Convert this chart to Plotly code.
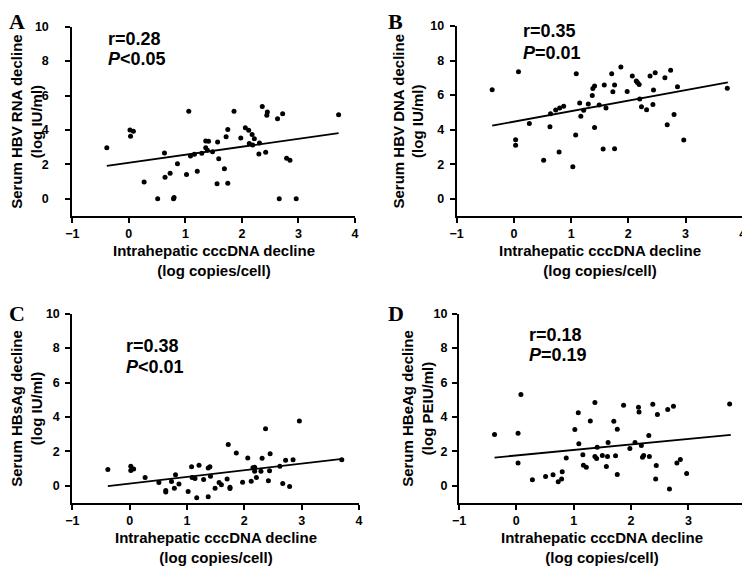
import plotly.graph_objects as go

# Panel A: serum HBV RNA decline vs intrahepatic cccDNA decline
a_x = [-0.39, 0.02, 0.08, 0.03, 0.27, 0.51, 0.63, 0.73, 0.64, 0.79, 0.80, 0.86, 1.02, 1.06,
       1.09, 1.16, 1.21, 1.29, 1.36, 1.41, 1.36, 1.39, 1.48, 1.56, 1.57, 1.59, 1.69, 1.72,
       1.75, 1.75, 1.86, 1.98, 2.06, 2.12, 2.18, 2.22, 2.13, 2.19, 2.31, 2.30, 2.36, 2.44,
       2.45, 2.42, 2.63, 2.72, 2.66, 2.79, 2.85, 2.96, 3.71]
a_y = [2.97, 4.00, 3.92, 3.63, 0.98, 0.00, 2.66, 1.49, 1.25, 0.00, 0.08, 2.03, 1.41, 5.08,
       2.49, 2.59, 1.60, 2.64, 3.36, 3.34, 2.97, 2.82, 2.74, 0.87, 3.30, 2.32, 1.74, 3.61,
       0.91, 4.02, 5.08, 3.53, 4.13, 3.98, 3.73, 3.49, 3.22, 3.13, 3.24, 2.61, 5.37, 4.85,
       5.04, 2.70, 4.65, 4.94, 0.00, 2.36, 2.24, 0.00, 4.88]
a_fit_x = [-0.39, 3.71]
a_fit_y = [1.91, 3.82]

# Panel B: serum HBV DNA decline
b_x = [-0.38, 0.08, 0.03, 0.03, 0.27, 0.52, 0.63, 0.64, 0.73, 0.80, 0.87, 0.79, 1.03, 1.08,
       1.09, 1.15, 1.17, 1.22, 1.30, 1.37, 1.38, 1.41, 1.41, 1.49, 1.56, 1.58, 1.61, 1.71,
       1.73, 1.76, 1.76, 1.87, 1.98, 2.07, 2.14, 2.16, 2.19, 2.20, 2.23, 2.32, 2.38, 2.47,
       2.44, 2.43, 2.64, 2.74, 2.68, 2.80, 2.86, 2.97, 3.73]
b_y = [6.31, 7.35, 3.42, 3.10, 4.35, 2.23, 4.17, 4.92, 5.13, 5.25, 5.35, 2.71, 1.85, 3.69,
       7.23, 5.54, 4.77, 5.12, 5.48, 5.98, 6.38, 6.52, 4.13, 5.42, 2.88, 6.58, 5.25, 7.23,
       6.19, 6.58, 2.90, 7.63, 6.21, 7.10, 6.81, 6.73, 6.62, 5.77, 5.33, 5.15, 7.10, 7.29,
       6.29, 5.46, 7.00, 7.44, 4.29, 4.88, 6.48, 3.40, 6.40]
b_fit_x = [-0.38, 3.74]
b_fit_y = [4.23, 6.73]

# Panel C: serum HBsAg decline
c_x = [-0.38, 0.02, 0.02, 0.07, 0.27, 0.51, 0.63, 0.63, 0.73, 0.80, 0.78, 0.86, 1.02, 1.08,
       1.14, 1.09, 1.21, 1.29, 1.37, 1.40, 1.41, 1.49, 1.56, 1.60, 1.70, 1.75, 1.75, 1.72,
       1.86, 1.97, 2.06, 2.12, 2.15, 2.18, 2.18, 2.21, 2.29, 2.31, 2.37, 2.42, 2.44, 2.45,
       2.62, 2.67, 2.72, 2.79, 2.85, 2.96, 3.70, 1.17, 1.37]
c_y = [0.95, 1.14, 0.89, 0.97, 0.48, 0.19, -0.28, -0.36, 0.25, 0.64, -0.14, 0.10, -0.33, 1.10,
       0.43, 0.48, 1.19, 0.37, 1.03, 1.10, 0.56, -0.14, 0.19, 0.06, 0.39, -0.08, -0.16, 2.40,
       1.91, 0.21, 1.62, 0.27, 1.05, 1.08, 0.85, 0.48, 0.85, 1.60, 3.31, 0.29, 0.87, 1.86,
       1.14, 0.14, 1.48, -0.04, 1.52, 3.77, 1.52, -0.70, -0.64]
c_fit_x = [-0.38, 3.71]
c_fit_y = [-0.02, 1.57]

# Panel D: serum HBeAg decline
d_x = [-0.38, 0.08, 0.03, 0.03, 0.28, 0.51, 0.64, 0.73, 0.79, 0.80, 0.87, 1.02, 1.08, 1.09,
       1.16, 1.17, 1.22, 1.29, 1.37, 1.37, 1.40, 1.41, 1.50, 1.57, 1.59, 1.60, 1.70, 1.73,
       1.76, 1.76, 1.87, 1.98, 2.07, 2.13, 2.14, 2.18, 2.20, 2.22, 2.32, 2.31, 2.38, 2.44,
       2.43, 2.46, 2.64, 2.74, 2.67, 2.80, 2.86, 2.97, 3.72]
d_y = [2.98, 5.30, 3.06, 1.32, 0.35, 0.54, 0.64, 0.23, 0.39, 0.81, 1.61, 3.27, 4.24, 2.44,
       1.80, 1.20, 1.08, 3.77, 4.84, 1.70, 1.59, 2.24, 1.76, 1.12, 1.70, 2.51, 3.75, 1.74,
       3.29, 0.66, 4.68, 2.17, 2.51, 4.56, 4.29, 2.34, 1.66, 1.76, 1.70, 2.92, 4.74, 1.18,
       0.39, 4.14, 4.43, 4.62, -0.19, 1.32, 1.53, 0.72, 4.76]
d_fit_x = [-0.38, 3.74]
d_fit_y = [1.64, 2.96]

panel_letters = ["A", "B", "C", "D"]
y_titles = ["Serum HBV RNA decline<br>(log IU/ml)",
            "Serum HBV DNA decline<br>(log IU/ml)",
            "Serum HBsAg decline<br>(log IU/ml)",
            "Serum HBeAg decline<br>(log PEIU/ml)"]
x_title = "Intrahepatic cccDNA decline<br>(log copies/cell)"
r_labels = ["r=0.28", "r=0.35", "r=0.38", "r=0.18"]
p_labels = ["<i>P</i><0.05", "<i>P</i>=0.01", "<i>P</i><0.01", "<i>P</i>=0.19"]

# the page body adds an 8px margin, so the figure is drawn 8px smaller and
# every screen position below is shifted by that amount
OFF = 8
W, H = 750 - OFF, 567 - OFF
FONT = "Liberation Sans, Arial, sans-serif"


def fx_(px):
    return (px - OFF) / W


def fy_(py):
    return 1 - (py - OFF) / H


# plot areas in screen pixels: (left, right, top, bottom)
boxes = [(72.3, 355.0, 26.7, 216.0),
         (456.7, 742.7, 26.0, 216.0),
         (72.3, 359.0, 313.7, 503.0),
         (459.0, 745.7, 313.7, 503.0)]
label_gap = [14, 3, 3, 2]
ytitle_x = [26.5, 407.5, 26.5, 417.5]

series = [(a_x, a_y, a_fit_x, a_fit_y), (b_x, b_y, b_fit_x, b_fit_y),
          (c_x, c_y, c_fit_x, c_fit_y), (d_x, d_y, d_fit_x, d_fit_y)]

fig = go.Figure()
layout = {}
annotations = []

for i, (xs, ys, lx, ly) in enumerate(series):
    n = "" if i == 0 else str(i + 1)
    xa, ya = "x" + n, "y" + n
    fig.add_trace(go.Scatter(x=xs, y=ys, mode="markers", xaxis=xa, yaxis=ya,
                             marker=dict(color="black", size=5), showlegend=False))
    fig.add_trace(go.Scatter(x=lx, y=ly, mode="lines", xaxis=xa, yaxis=ya,
                             line=dict(color="black", width=1.8), showlegend=False))

    l, r, t, b = boxes[i]
    axis_common = dict(showline=True, linecolor="black", linewidth=2, ticks="outside",
                       ticklen=5, tickwidth=1.5, tickcolor="black", showgrid=False,
                       zeroline=False, automargin=False,
                       tickfont=dict(family=FONT, size=12.5, color="black", weight="bold"))
    layout["xaxis" + n] = dict(axis_common, domain=[fx_(l), fx_(r)], anchor=ya,
                               range=[-1, 4], tickvals=[-1, 0, 1, 2, 3, 4])
    layout["yaxis" + n] = dict(axis_common, domain=[fy_(b), fy_(t)], anchor=xa,
                               range=[-1, 10], tickvals=[0, 2, 4, 6, 8, 10],
                               ticklabelstandoff=label_gap[i])

    # axis titles
    annotations.append(dict(text=x_title, xref="paper", yref="paper",
                            x=fx_((l + r) / 2), y=fy_(b + 44.5),
                            xanchor="center", yanchor="middle", showarrow=False,
                            font=dict(family=FONT, size=15, color="black", weight="bold")))
    annotations.append(dict(text=y_titles[i], xref="paper", yref="paper",
                            x=fx_(ytitle_x[i]), y=fy_((t + b) / 2), textangle=-90,
                            xanchor="center", yanchor="middle", showarrow=False,
                            font=dict(family=FONT, size=15, color="black", weight="bold")))

# panel letters
letter_pos = [(8, 8), (387, 8), (8, 300), (387, 300)]
for letter, (px, py) in zip(panel_letters, letter_pos):
    annotations.append(dict(text=letter, xref="paper", yref="paper", x=fx_(px), y=fy_(py),
                            xanchor="left", yanchor="top", showarrow=False, borderpad=0,
                            font=dict(family="Liberation Serif, Times New Roman, serif",
                                      size=22, color="black", weight="bold")))

# correlation labels
stat_pos = [(105.7, 39, 59.5), (520.5, 31, 53), (124, 346, 366.5), (526.7, 334.5, 355)]
for r_txt, p_txt, (px, y1, y2) in zip(r_labels, p_labels, stat_pos):
    for txt, py in ((r_txt, y1), (p_txt, y2)):
        annotations.append(dict(text=txt, xref="paper", yref="paper", x=fx_(px), y=fy_(py),
                                xanchor="left", yanchor="middle", showarrow=False,
                                font=dict(family=FONT, size=18, color="black", weight="bold")))

fig.update_layout(width=W, height=H,
                  margin=dict(l=0, r=0, t=0, b=0, pad=0, autoexpand=False),
                  plot_bgcolor="white", paper_bgcolor="white", showlegend=False,
                  annotations=annotations, **layout)

fig.write_html("out.html")
